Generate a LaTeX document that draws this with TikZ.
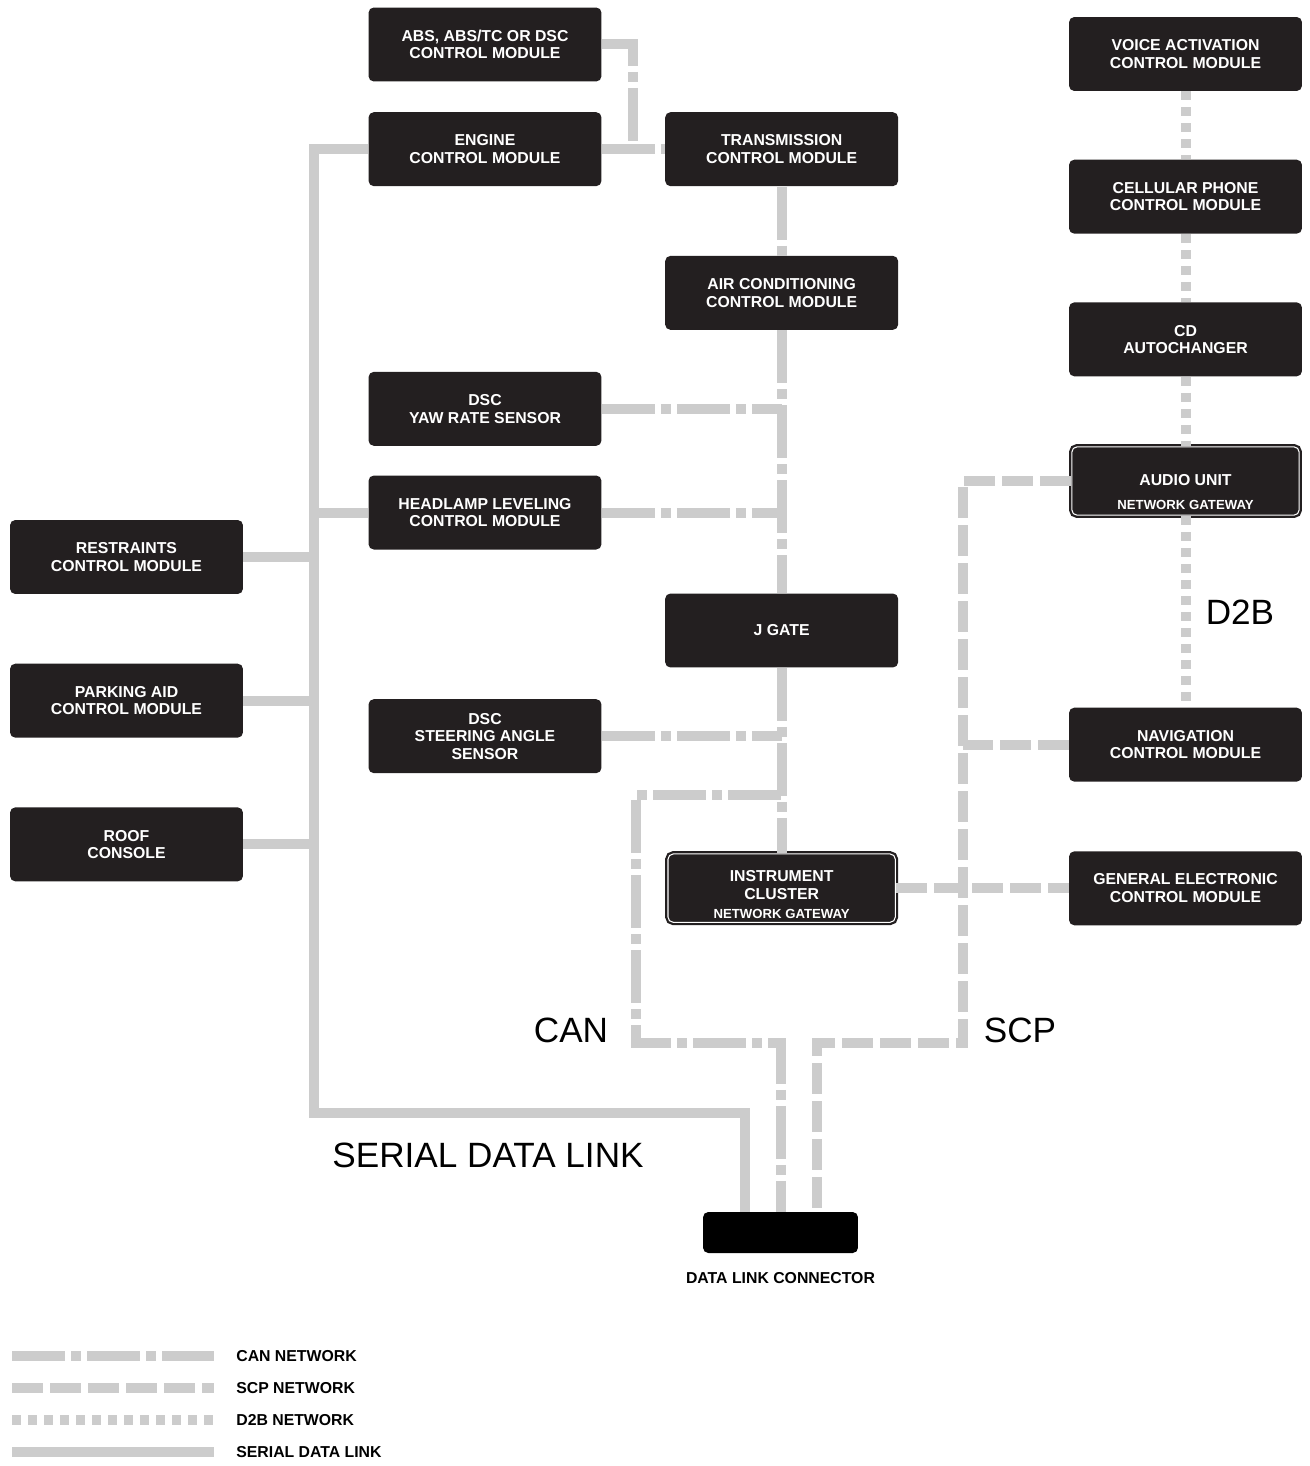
\documentclass[tikz,border=0pt]{standalone}
\usepackage{fontspec}
\setmainfont{Liberation Sans}
\usetikzlibrary{positioning,calc}

\definecolor{modfill}{HTML}{231F20}
\definecolor{netgrey}{HTML}{CCCCCC}
\newcommand{\gatewayfont}{\fontsize{7.5}{9}\selectfont}

\begin{document}
\begin{tikzpicture}[
  x=0.02cm, y=-0.02cm,
  every node/.style={font=\fontsize{9}{10}\selectfont\bfseries},
  box/.style={fill=modfill, text=white, rounded corners=3pt, align=center,
              minimum width=4.66cm, minimum height=1.48cm, inner sep=1pt},
  gateway/.style={box, draw=modfill, line width=1.3pt, double=white,
                  double distance=0.6pt, minimum width=4.66cm-3.2pt,
                  minimum height=1.48cm-3.2pt},
  net/.style={draw=netgrey, line width=0.2cm},
  serial/.style={net},
  can/.style={net, dash pattern=on 1.06cm off 0.12cm on 0.2cm off 0.12cm},
  scp/.style={net, dash pattern=on 0.62cm off 0.14cm},
  d2b/.style={net, dash pattern=on 0.18cm off 0.14cm},
  netlabel/.style={font=\fontsize{20}{24}\selectfont},
]
\useasboundingbox (0,0) rectangle (1309,1466);

% modules, middle columns
\node[box] (abs) at (485,44.5) {ABS, ABS/TC OR DSC\\CONTROL MODULE};
\node[box, below=0.6cm of abs] (ecm) {ENGINE\\CONTROL MODULE};
\node[box, right=1.26cm of ecm] (tcm) {TRANSMISSION\\CONTROL MODULE};
\node[box, below=1.38cm of tcm] (acm) {AIR CONDITIONING\\CONTROL MODULE};
\node[box, below=3.7cm of ecm] (yaw) {DSC\\YAW RATE SENSOR};
\node[box, below=0.58cm of yaw] (hlm) {HEADLAMP LEVELING\\CONTROL MODULE};
\node[box, below=2.98cm of hlm] (sas) {DSC\\STEERING ANGLE\\SENSOR};
\node[box, below=5.26cm of acm] (jgate) {J GATE};
\node[gateway, below=3.7cm of jgate] (ic)
  {\rule{0pt}{13.5pt}INSTRUMENT\\CLUSTER\\[1pt]{\gatewayfont NETWORK GATEWAY}};

% left column
\node[box] (rcm) at (126.5,557) {RESTRAINTS\\CONTROL MODULE};
\node[box, below=1.38cm of rcm] (pacm) {PARKING AID\\CONTROL MODULE};
\node[box, below=1.38cm of pacm] (roof) {ROOF\\CONSOLE};

% right column
\node[box] (vacm) at (1185.5,54) {VOICE ACTIVATION\\CONTROL MODULE};
\node[box, below=1.36cm of vacm] (cpm) {CELLULAR PHONE\\CONTROL MODULE};
\node[box, below=1.36cm of cpm] (cdac) {CD\\AUTOCHANGER};
\node[gateway, below=1.38cm of cdac] (au)
  {\rule{0pt}{19pt}AUDIO UNIT\\[4pt]{\gatewayfont NETWORK GATEWAY}};
\node[box, below=3.82cm of au] (nav) {NAVIGATION\\CONTROL MODULE};
\node[box, below=1.38cm of nav] (gem) {GENERAL ELECTRONIC\\CONTROL MODULE};

% data link connector
\node[fill=black, rounded corners=3pt, minimum width=3.1cm,
      minimum height=0.82cm] (dlc) at (780.5,1232.5) {};
\node[below=0.38cm of dlc, inner sep=0pt] (dlclbl) {DATA LINK CONNECTOR};

% bus corners
\coordinate (sdbus) at (314,1113);
\coordinate (canjoin) at ($(ecm.east)!0.5!(tcm.west)$);
\coordinate (cantap) at (780.5,795);
\coordinate (canbus) at (636,1043);
\coordinate (scpbus) at (963,1043);

% serial data link
\draw[serial] (ecm.west) -| (sdbus) -| ([xshift=-0.71cm]dlc.north);
\draw[serial] (hlm.west) -- (hlm.west -| sdbus);
\draw[serial] (rcm.east) -- (rcm.east -| sdbus);
\draw[serial] (pacm.east) -- (pacm.east -| sdbus);
\draw[serial] (roof.east) -- (roof.east -| sdbus);

% CAN
\draw[can] (abs.east) -| (canjoin);
\draw[can] (ecm.east) -- (ecm.east -| tcm.west);
\draw[can] (tcm.south) -- (acm.north);
\draw[can] (acm.south) -- (jgate.north);
\draw[can] (jgate.south) -- (ic.north);
\draw[can] (yaw.east) -- (yaw.east -| acm.south);
\draw[can] (hlm.east) -- (hlm.east -| acm.south);
\draw[can] (sas.east) -- (sas.east -| jgate.south);
\draw[can] (cantap) -| (canbus) -| (dlc.north);

% SCP
\draw[scp] (au.west) -| (scpbus) -| ([xshift=0.73cm]dlc.north);
\draw[scp] (nav.west) -- (nav.west -| scpbus);
\draw[scp] (ic.east) -- (ic.east -| gem.west);

% D2B
\draw[d2b] (vacm.south) -- (cpm.north);
\draw[d2b] (cpm.south) -- (cdac.north);
\draw[d2b] (cdac.south) -- (au.north);
\draw[d2b] (au.south) -- (nav.north);

% network names
\node[netlabel] (canlbl) at (571,1030) {CAN};
\node[netlabel] (scplbl) at (1020,1030) {SCP};
\node[netlabel] (d2blbl) at (1240,612) {D2B};
\node[netlabel] (sdllbl) at (488,1155) {SERIAL DATA LINK};

% legend
\foreach \sty/\txt [count=\i] in {can/CAN NETWORK, scp/SCP NETWORK,
    d2b/D2B NETWORK, serial/SERIAL DATA LINK} {
  \node[anchor=west, inner sep=0pt] (lg\i) at (236,1324+32*\i) {\txt};
  \draw[\sty] ([xshift=-4.48cm]lg\i.west) -- ([xshift=-0.44cm]lg\i.west);
}
\end{tikzpicture}
\end{document}
